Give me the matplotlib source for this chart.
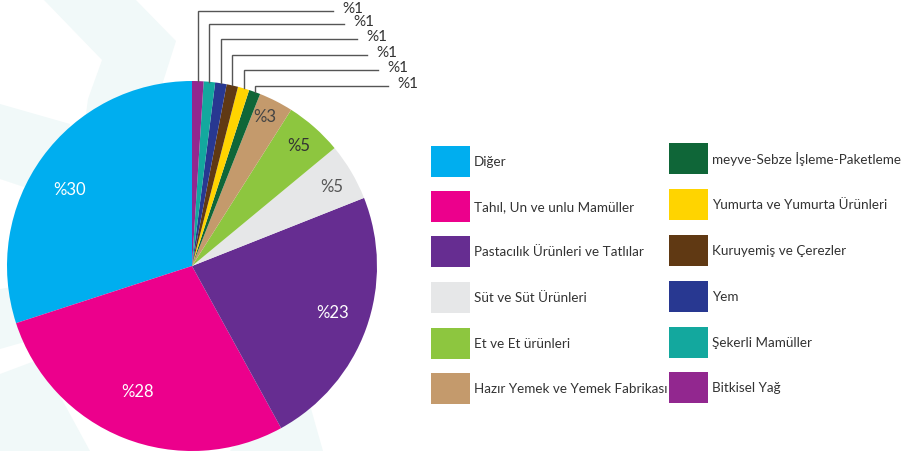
import numpy as np
import matplotlib.pyplot as plt
from matplotlib.patches import Polygon, Rectangle

categories = ["Diğer", "Tahıl, Un ve unlu Mamüller", "Pastacılık Ürünleri ve Tatlılar",
              "Süt ve Süt Ürünleri", "Et ve Et ürünleri", "Hazır Yemek ve Yemek Fabrikası",
              "meyve-Sebze İşleme-Paketleme", "Yumurta ve Yumurta Ürünleri",
              "Kuruyemiş ve Çerezler", "Yem", "Şekerli Mamüller", "Bitkisel Yağ"]
values = [30, 28, 23, 5, 5, 3, 1, 1, 1, 1, 1, 1]
colors = ["#00aeef", "#ec008c", "#662d91", "#e6e7e8", "#8dc63f", "#c49a6c",
          "#0f6638", "#ffd400", "#603913", "#283891", "#13a89e", "#92278f"]
label_colors = ["white", "white", "white", "#555555", "#333333", "#444444"]
label_r = [0.78, 0.74, 0.80, 0.87, 0.87, 0.90]
label_shift = [3.7, -2.0, 1.5, -1.0, 0.0, 1.0]   # degrees

W, H = 913, 452
fig = plt.figure(figsize=(9.13, 4.52), dpi=100)
ax = fig.add_axes([0, 0, 1, 1])

def py(y):
    return H - y

# faint background decoration
bg = "#f1f9f9"
shapes = [
    [(43, 0), (135, 0), (176, 42), (163, 83), (150, 160), (80, 160), (88, 100), (102, 61)],
    [(0, 105), (70, 125), (60, 200), (0, 180)],
    [(0, 290), (60, 280), (70, 330), (0, 350)],
    [(0, 375), (40, 360), (90, 452), (0, 452)],
    [(230, 452), (323, 452), (306, 392), (270, 400)],
]
for s in shapes:
    ax.add_patch(Polygon([(x, py(y)) for x, y in s], closed=True, facecolor=bg,
                         edgecolor="none", zorder=0))

cx, cy, r = 192, py(267), 185
wedges, _ = ax.pie(values, colors=colors, startangle=90, counterclock=True,
                   center=(cx, cy), radius=r, frame=True,
                   wedgeprops=dict(linewidth=0, zorder=2))

font = "Lato"

# labels inside wedges
for i, w in enumerate(wedges[:6]):
    mid = np.radians((w.theta1 + w.theta2) / 2 + label_shift[i])
    x = cx + label_r[i] * r * np.cos(mid)
    y = cy + label_r[i] * r * np.sin(mid)
    ax.text(x, y, f"%{values[i]}", ha="center", va="center", fontsize=12,
            color=label_colors[i], family=font, zorder=3)

# leader lines for the small wedges
leader_y = [87, 71, 56, 40, 25, 12]
leader_end = [388, 378, 367, 357, 344, 333]
for k, w in enumerate(wedges[6:]):
    i = k + 6
    mid = np.radians((w.theta1 + w.theta2) / 2)
    x0 = cx + r * np.cos(mid)
    y0 = cy + r * np.sin(mid)
    ly = py(leader_y[k])
    ax.plot([x0, x0, leader_end[k]], [y0, ly, ly], color="#555555", lw=1,
            solid_joinstyle="miter", zorder=3)
    ax.text(leader_end[k] + 9, ly + 3, f"%{values[i]}", ha="left", va="center",
            fontsize=11, color="#333333", family=font, zorder=3)

# legend
col_x = [431, 669]
rows = [[162, 207, 252, 298, 344, 389], [159, 205, 251, 297, 343, 388]]
for i, name in enumerate(categories):
    c, j = divmod(i, 6)
    yc = py(rows[c][j])
    ax.add_patch(Rectangle((col_x[c], yc - 15.5), 39, 31, facecolor=colors[i],
                           edgecolor="none", zorder=3))
    ax.text(col_x[c] + 43, yc, name, ha="left", va="center", fontsize=9.7,
            color="#333333", family=font, zorder=3)

ax.set_xlim(0, W)
ax.set_ylim(0, H)
ax.axis("off")
fig.savefig("out.png", dpi=100)
